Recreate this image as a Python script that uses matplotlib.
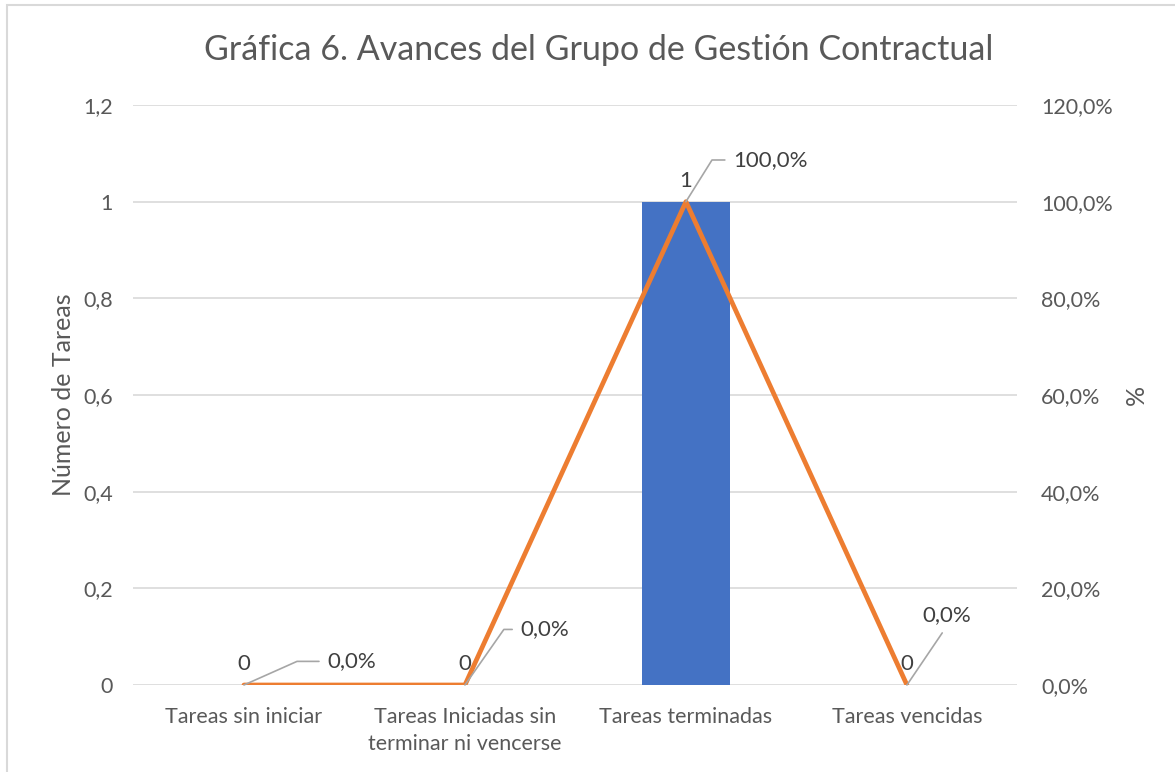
import matplotlib.pyplot as plt
from matplotlib.patches import Rectangle
from matplotlib.ticker import FuncFormatter

categorias = ['Tareas sin iniciar', 'Tareas Iniciadas sin\nterminar ni vencerse',
              'Tareas terminadas', 'Tareas vencidas']
num_tareas = [0, 0, 1, 0]
porcentaje = [0.0, 0.0, 1.0, 0.0]
ticks_izq = [0, 0.2, 0.4, 0.6, 0.8, 1.0, 1.2]

plt.rcParams['font.family'] = ['Lato', 'DejaVu Sans']
gris = '#595959'

fig = plt.figure(figsize=(11.75, 7.72), dpi=100)
fig.patches.append(Rectangle((7 / 1175, -0.1), 1.2, 1 - 5 / 772 + 0.1, transform=fig.transFigure,
                             fill=False, edgecolor='#D9D9D9', linewidth=1.5))
ax = fig.add_axes([0.1136, 0.1127, 0.7523, 0.7513])
x = list(range(len(categorias)))

ax.bar(x, num_tareas, width=0.4, color='#4472C4', zorder=2)
ax.set_xlim(-0.5, 3.5)
ax.set_ylim(0, 1.2)
ax.set_yticks(ticks_izq)
ax.yaxis.set_major_formatter(FuncFormatter(lambda v, p: ('%g' % round(v, 1)).replace('.', ',')))
ax.grid(axis='y', color='#D9D9D9', linewidth=1.2, zorder=0)
ax.set_axisbelow(True)
for s in ax.spines.values():
    s.set_visible(False)
ax.tick_params(length=0, labelsize=15.5, colors=gris, pad=15)
ax.tick_params(axis='x', pad=16)
ax.set_xticks(x)
ax.set_xticklabels(categorias, linespacing=1.4)
ax.set_ylabel('Número de Tareas', fontsize=18, color=gris, labelpad=6)

for xi, v in zip(x, num_tareas):
    ax.annotate('%d' % v, (xi, v), xytext=(0, 8), textcoords='offset points',
                ha='center', va='bottom', fontsize=16, color='#404040')

ax2 = ax.twinx()
ax2.plot(x, porcentaje, color='#ED7D31', linewidth=3.4, solid_capstyle='round', zorder=3)
ax2.set_ylim(0, 1.2)
ax2.set_yticks(ticks_izq)
ax2.yaxis.set_major_formatter(FuncFormatter(lambda v, p: ('%.1f%%' % (v * 100)).replace('.', ',')))
for s in ax2.spines.values():
    s.set_visible(False)
ax2.tick_params(length=0, labelsize=15.5, colors=gris, pad=17)
ax2.set_ylabel('%', fontsize=18, color=gris, labelpad=9)

# desplazamiento (puntos), alineacion, punto de union y conexion del guia
etiquetas = [((60, 17), 'left', (0, 0.5), 'angle,angleA=180,angleB=24,rad=0'),
             ((40, 40), 'left', (0, 0.5), 'angle,angleA=180,angleB=55,rad=0'),
             ((34, 30), 'left', (0, 0.5), 'angle,angleA=180,angleB=58,rad=0'),
             ((29, 50), 'center', (0.5, 0), 'arc3,rad=0')]
for xi, v, (off, ha, rp, con) in zip(x, porcentaje, etiquetas):
    ax2.annotate(('%.1f%%' % (v * 100)).replace('.', ','), (xi, v), xytext=off,
                 textcoords='offset points', ha=ha, va='center', fontsize=16, color='#404040',
                 arrowprops=dict(arrowstyle='-', color='#A6A6A6', lw=1.2, shrinkA=4, shrinkB=0,
                                 relpos=rp, connectionstyle=con))

fig.text(0.5 * (203 + 995) / 1175, 1 - 50 / 772, 'Gráfica 6. Avances del Grupo de Gestión Contractual',
         ha='center', va='center', fontsize=24.5, color=gris)

fig.savefig('out.png', dpi=100)
